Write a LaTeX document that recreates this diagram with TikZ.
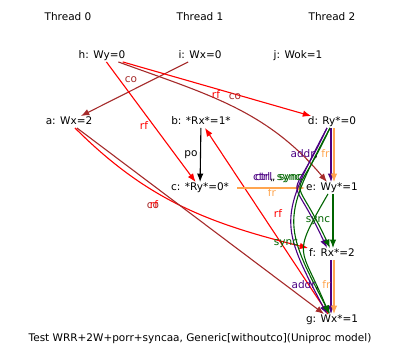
\documentclass[tikz,border=0pt]{standalone}
\usepackage{fontspec}
\setmainfont{DejaVu Sans}
\usepackage{xcolor}
\usepackage{tikz}
\usetikzlibrary{arrows.meta}
\definecolor{rfred}{RGB}{255,0,0}
\definecolor{cobrown}{RGB}{165,42,42}
\definecolor{deppurple}{RGB}{75,0,130}
\definecolor{syncgreen}{RGB}{0,100,0}
\definecolor{frorange}{RGB}{255,165,79}

\begin{document}
\begin{tikzpicture}[x=1pt, y=1pt,
  every node/.style={font=\fontsize{10.5}{12}\selectfont},
  event/.style={inner sep=1pt, text height=7.5pt, text depth=2pt},
  lbl/.style={inner sep=0pt, text height=7.5pt, text depth=2pt},
  rel/.style={-{Latex[length=8.5pt, width=6.5pt]}, line width=1.1pt},
  rf/.style={rel, rfred},
  co/.style={rel, cobrown},
  po/.style={rel, black},
  fr/.style={rel, frorange},
  addr/.style={rel, deppurple},
  sync/.style={rel, syncgreen}
]
\useasboundingbox (0,0) rectangle (402,361);
\node (t0) at (68,344) {Thread 0};
\node (t1) at (200,344) {Thread 1};
\node (t2) at (332,344) {Thread 2};
\node[event] (h) at (102,305) {h: Wy=0};
\node[event] (i) at (200,305) {i: Wx=0};
\node[event] (j) at (298,305) {j: Wok=1};
\node[event] (a) at (69,239) {a: Wx=2};
\node[event] (b) at (201,239) {b: *Rx*=1*};
\node[event] (d) at (332,239) {d: Ry*=0};
\node[event] (c) at (200,173) {c: *Ry*=0*};
\node[event] (e) at (332,173) {e: Wy*=1};
\node[event] (f) at (332,107) {f: Rx*=2};
\node[event] (g) at (332,41) {g: Wx*=1};
\node (caption) at (200,22) {Test WRR+2W+porr+syncaa, Generic[withoutco](Uniproc model)};
\draw[co] (i) -- (a);
\draw[rf] (h) -- (c);
\draw[rf] (h) -- (d);
\draw[co] (h) to[out=-20, in=130] (e);
\draw[po] (b) -- (c);
\draw[rf] (a) to[out=-45, in=166] (f);
\draw[co] (a) -- (g);
\draw[rf] (g) -- (b);
\draw[fr, shorten <=7pt] (c) -- (e);
\draw[addr] ([xshift=-1pt]d.south) -- ([xshift=-1pt]e.north);
\draw[fr] ([xshift=2pt]d.south) -- ([xshift=2pt]e.north);
\draw[sync] ([xshift=1pt]e.south) -- ([xshift=1pt]f.north);
\draw[addr] ([xshift=-1pt]f.south) -- ([xshift=-1pt]g.north);
\draw[fr] ([xshift=2pt]f.south) -- ([xshift=2pt]g.north);
\draw[addr] ([xshift=-5pt]d.south) to[out=-115, in=115, looseness=2] ([xshift=-5pt]f.north);
\draw[sync] ([xshift=-2pt]d.south) to[out=-115, in=115, looseness=2] ([xshift=-2pt]f.north);
\draw[addr] ([xshift=-5pt]d.south) to[out=-118, in=118, looseness=1.4] ([xshift=-5pt]g.north);
\draw[sync] ([xshift=-2pt]d.south) to[out=-118, in=118, looseness=1.4] ([xshift=-2pt]g.north);
\draw[sync] ([xshift=-4pt]e.south) to[out=-120, in=112, looseness=1.6] ([xshift=-3pt]g.north);
\node[lbl, cobrown] (l-ia) at (131,281) {co};
\node[lbl, rfred] (l-hc) at (144,234) {rf};
\node[lbl, rfred] (l-hd) at (216,265) {rf};
\node[lbl, cobrown] (l-he) at (235,264) {co};
\node[lbl] (l-bc) at (191,207) {po};
\node[lbl, cobrown] (l-ag) at (153,155) {co};
\node[lbl, rfred] (l-af) at (154,155) {rf};
\node[lbl, rfred] (l-gb) at (278,146) {rf};
\node[lbl] (l-df) at (277,183) {{\color{deppurple}ctrl}, {\color{syncgreen}sync}};
\node[lbl] (l-dg) at (279,183) {{\color{deppurple}ctrl}, {\color{syncgreen}sync}};
\node[lbl, frorange] (l-ce) at (272,167) {fr};
\node[lbl] (l-de) at (310,206) {{\color{deppurple}addr}, {\color{frorange}fr}};
\node[lbl, syncgreen] (l-ef) at (318,141) {sync};
\node[lbl, syncgreen] (l-eg) at (286,118) {sync};
\node[lbl] (l-fg) at (311,75) {{\color{deppurple}addr}, {\color{frorange}fr}};
\end{tikzpicture}
\end{document}
